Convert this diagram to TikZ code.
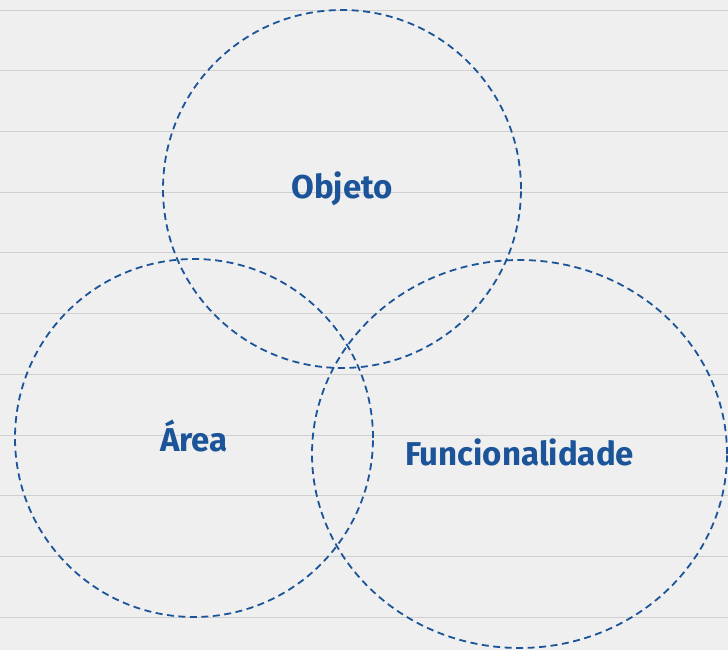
\documentclass[tikz,border=0pt]{standalone}
\usepackage{fontspec}
\setmainfont{Fira Sans}
\usetikzlibrary{shapes.geometric}
\definecolor{inkblue}{HTML}{1B5499}
\definecolor{paper}{HTML}{EFEFEF}
\definecolor{rule}{HTML}{CFCFCF}
\tikzset{
  setring/.style={draw=inkblue, text=inkblue, line width=1.8pt, dash pattern=on 7pt off 4.5pt,
    inner sep=0pt, outer sep=0pt, font=\fontsize{33}{36}\selectfont\bfseries},
}
\begin{document}
\begin{tikzpicture}[x=1pt,y=-1pt]
\fill[paper] (0,0) rectangle (728,650);
\useasboundingbox (0,0) rectangle (728,650);
\foreach \k in {0,...,10} {
  \draw[rule, line width=0.7pt] (0,{10+60.7*\k}) -- (728,{10+60.7*\k});
}
\node[setring, circle, minimum size=358pt] (obj) at (342,189) {Objeto};
\node[setring, circle, minimum size=358pt] (area) at (194,438) {\raisebox{4pt}{Área}};
\node[setring, ellipse, minimum width=415pt, minimum height=388pt] (func) at (519.5,454) {\raisebox{4pt}{Funcionalidade}};
\end{tikzpicture}
\end{document}
